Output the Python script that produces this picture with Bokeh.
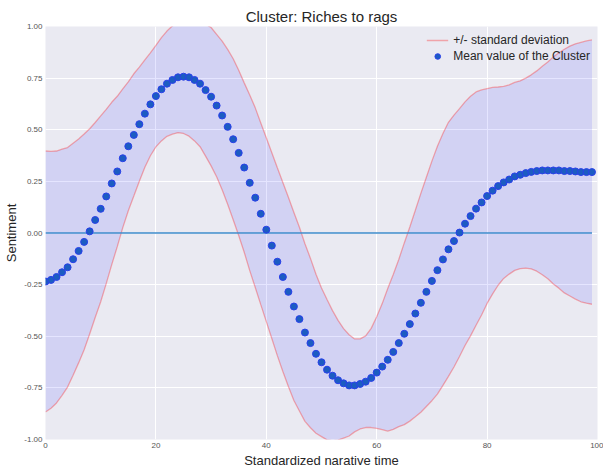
from bokeh.plotting import figure
from bokeh.models import Range1d, FixedTicker, PrintfTickFormatter
from bokeh.embed import file_html
from bokeh.resources import INLINE

# Narrative time (standardized), 100 steps
time = list(range(100))

# Mean value of the cluster at each step
mean_vals = [
    -0.235, -0.227, -0.213, -0.190, -0.166, -0.127, -0.087, -0.043, 0.008, 0.063,
    0.117, 0.177, 0.240, 0.298, 0.362, 0.420, 0.475, 0.527, 0.578, 0.623,
    0.663, 0.696, 0.723, 0.741, 0.754, 0.757, 0.754, 0.741, 0.723, 0.692,
    0.660, 0.617, 0.569, 0.514, 0.454, 0.388, 0.317, 0.243, 0.171, 0.093,
    0.016, -0.061, -0.139, -0.213, -0.285, -0.356, -0.417, -0.482, -0.533, -0.585,
    -0.626, -0.662, -0.691, -0.713, -0.728, -0.738, -0.738, -0.731, -0.720, -0.702,
    -0.676, -0.647, -0.614, -0.576, -0.533, -0.488, -0.441, -0.390, -0.338, -0.285,
    -0.232, -0.180, -0.128, -0.079, -0.039, 0.002, 0.045, 0.082, 0.118, 0.148,
    0.179, 0.205, 0.227, 0.245, 0.259, 0.274, 0.282, 0.290, 0.296, 0.300,
    0.303, 0.303, 0.303, 0.303, 0.300, 0.300, 0.298, 0.295, 0.295, 0.295,
]

# Standard deviation of the cluster at each step
std_vals = [
    0.632, 0.622, 0.610, 0.596, 0.580, 0.562, 0.542, 0.522, 0.497, 0.472,
    0.450, 0.422, 0.393, 0.364, 0.336, 0.312, 0.296, 0.276, 0.260, 0.249,
    0.246, 0.250, 0.255, 0.262, 0.268, 0.275, 0.285, 0.295, 0.305, 0.320,
    0.335, 0.345, 0.360, 0.375, 0.390, 0.400, 0.410, 0.425, 0.435, 0.440,
    0.445, 0.450, 0.455, 0.458, 0.458, 0.455, 0.445, 0.430, 0.410, 0.385,
    0.360, 0.340, 0.315, 0.290, 0.265, 0.245, 0.225, 0.218, 0.222, 0.240,
    0.270, 0.305, 0.345, 0.375, 0.405, 0.440, 0.470, 0.500, 0.530, 0.555,
    0.580, 0.600, 0.610, 0.615, 0.610, 0.600, 0.590, 0.580, 0.565, 0.545,
    0.520, 0.500, 0.480, 0.465, 0.458, 0.455, 0.455, 0.460, 0.470, 0.485,
    0.505, 0.525, 0.550, 0.570, 0.590, 0.605, 0.618, 0.628, 0.635, 0.640,
]

zero_line = [0.0 for _ in time]

x_ticks = [0, 20, 40, 60, 80, 100]
y_ticks = [-1.0, -0.75, -0.5, -0.25, 0.0, 0.25, 0.5, 0.75, 1.0]

upper = [m + s for m, s in zip(mean_vals, std_vals)]
lower = [m - s for m, s in zip(mean_vals, std_vals)]

FONT = "Liberation Sans"

p = figure(width=603, height=470, output_backend="svg", toolbar_location=None,
           x_range=Range1d(0, 100), y_range=Range1d(-1, 1),
           title="Cluster: Riches to rags",
           min_border_left=45, min_border_right=6, min_border_top=26, min_border_bottom=30)

p.background_fill_color = "#EAEAF2"
p.border_fill_color = "white"
p.outline_line_color = None

p.title.align = "center"
p.title.text_font = FONT
p.title.text_font_size = "15px"
p.title.text_font_style = "normal"
p.title.text_color = "#262626"
p.title.offset = 0
p.title.standoff = 4

p.varea(x=time, y1=lower, y2=upper, fill_color="blue", fill_alpha=0.1)
p.line(time, upper, line_color="red", line_alpha=0.3, line_width=1.3,
       legend_label="+/- standard deviation")
p.line(time, lower, line_color="red", line_alpha=0.3, line_width=1.3)
p.line(time, zero_line, line_color="#3e8ccc", line_width=1.5)
p.scatter(time, mean_vals, size=7, fill_color="#1c5cc2", line_color="#2a40ea",
          line_width=1, legend_label="Mean value of the Cluster")

for ax in (p.xaxis[0], p.yaxis[0]):
    ax.axis_line_color = None
    ax.major_tick_line_color = None
    ax.minor_tick_line_color = None
    ax.major_tick_out = 0
    ax.major_tick_in = 0
    ax.minor_tick_out = 0
    ax.major_label_text_font = FONT
    ax.major_label_text_font_size = "8px"
    ax.major_label_text_color = "#555555"
    ax.axis_label_text_font = FONT
    ax.axis_label_text_font_size = "13px"
    ax.axis_label_text_font_style = "normal"
    ax.axis_label_text_color = "#262626"
    ax.major_label_standoff = 3
    ax.axis_label_standoff = 2

p.xaxis.axis_label = "Standardized narative time"
p.yaxis.axis_label = "Sentiment"
p.xaxis.ticker = FixedTicker(ticks=x_ticks)
p.yaxis.ticker = FixedTicker(ticks=y_ticks)
p.yaxis.formatter = PrintfTickFormatter(format="%.2f")

p.xgrid.ticker = FixedTicker(ticks=x_ticks)
p.ygrid.ticker = FixedTicker(ticks=y_ticks)
p.grid.grid_line_color = "white"
p.grid.grid_line_width = 1

p.legend.location = "top_right"
p.legend.background_fill_alpha = 0
p.legend.border_line_alpha = 0
p.legend.label_text_font = FONT
p.legend.label_text_font_size = "12px"
p.legend.label_text_color = "#262626"
p.legend.glyph_width = 22
p.legend.label_height = 14
p.legend.glyph_height = 14
p.legend.spacing = 2
p.legend.padding = 4
p.legend.margin = 3

open("out.html", "w").write(file_html(p, INLINE))
